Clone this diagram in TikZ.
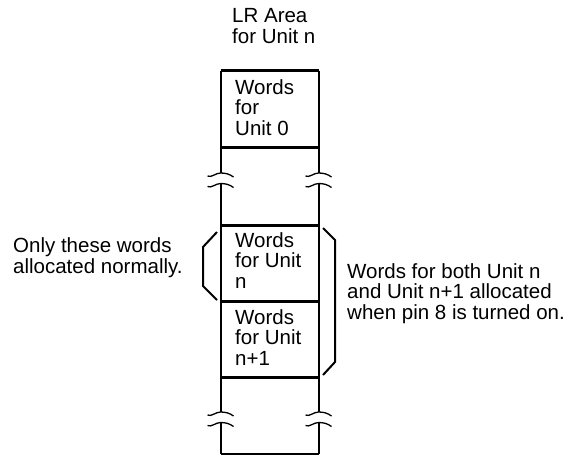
\documentclass[tikz,border=0pt]{standalone}
\usepackage{fontspec}
\setmainfont{Liberation Sans}
\usepackage{tikz}
\usetikzlibrary{positioning}

\tikzset{
    txt/.style={anchor=base west, inner sep=0pt, align=left,
        font=\fontsize{20.5}{20.5}\selectfont},
    rail/.style={line width=2pt},
    divider/.style={line width=3pt},
    brkline/.style={line width=1.3pt},
    bracket/.style={line width=2pt, line join=miter},
}

\begin{document}
\begin{tikzpicture}[x=1pt, y=-1pt]
    \useasboundingbox (0,0) rectangle (570,456);

    % ========== Naglowek obszaru LR ==========
    \node[txt] (title) at (232,43) {LR Area\\for Unit n};

    % ========== Kolumna slow ==========
    \coordinate (topL) at (220.5,70.5);
    \coordinate (topR) at (318.5,70.5);
    \coordinate (botL) at (220.5,454);
    \coordinate (botR) at (318.5,454);

    % Linie pionowe (przerwane na znakach przerwy)
    \draw[rail] (topL) -- (220.5,173) (220.5,183.5) -- (220.5,412) (220.5,422.5) -- (botL);
    \draw[rail] (topR) -- (318.5,173) (318.5,183.5) -- (318.5,412) (318.5,422.5) -- (botR);

    % Linie poziome
    \draw[divider] (topL) -- (topR);
    \draw[divider] (220.5,147) -- (318.5,147);
    \draw[divider] (220.5,225) -- (318.5,225);
    \draw[divider] (220.5,301) -- (318.5,301);
    \draw[divider] (220.5,377.5) -- (318.5,377.5);
    \draw[rail] (botL) -- (botR);

    % Znaki przerwy
    \foreach \bx in {220.5,318.5}
        \foreach \by in {173,183.5,412,422.5}
            \draw[brkline] (\bx-13,\by+3) .. controls (\bx-9,\by+5) and (\bx-5,\by) .. (\bx,\by)
                .. controls (\bx+5,\by) and (\bx+9,\by+1) .. (\bx+13,\by+4);

    % Opisy w komorkach (kotwica = linia bazowa ostatniego wiersza)
    \node[txt] (unitzero) at (235,135) {Words\\for\\Unit 0};
    \node[txt] (unitn) at (235,288) {Words\\for Unit\\n};
    \node[txt] (unitnext) at (235,365) {Words\\for Unit\\n+1};

    % ========== Nawiasy ==========
    \draw[bracket] (217,232) -- (203,247) -- (203,286) -- (217,300);
    \draw[bracket] (323,228) -- (335,240) -- (335,362) -- (323,375);

    % Opisy nawiasow
    \node[txt] (normal) at (13,273) {Only these words\\allocated normally.};
    \node[txt] (both) at (347,319) {Words for both Unit n\\and Unit n+1 allocated\\when pin 8 is turned on.};
\end{tikzpicture}
\end{document}
